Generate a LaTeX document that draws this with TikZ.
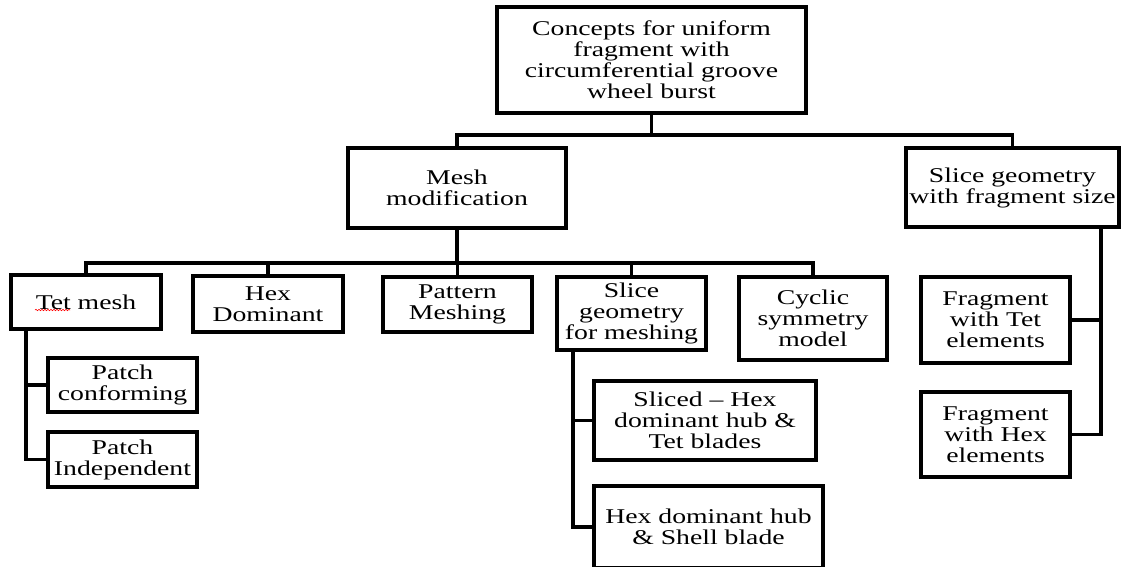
\documentclass[tikz,border=0pt]{standalone}
\usepackage{fontspec}
\setmainfont{Liberation Serif}[FakeStretch=1.32]
\usetikzlibrary{decorations.pathmorphing}
\tikzset{
  box/.style={draw, line width=3.5pt, inner sep=0pt, align=center, fill=white,
    font=\fontsize{21pt}{21pt}\selectfont},
  link/.style={line width=3.5pt, line cap=rect}
}
\newcommand\boxat[6]{\node[box, minimum width={(#4-#2)*1pt}, minimum height={(#5-#3)*1pt}] (#1) at ({(#2+#4)/2},{(#3+#5)/2}) {#6};}
\begin{document}
\begin{tikzpicture}[x=1pt,y=-1pt]
\useasboundingbox (0,0) rectangle (1121,566);
% helper coordinates for bus levels and vertical rails
\coordinate (b1) at (0,135);
\coordinate (b2) at (0,263);
\coordinate (tv) at (26,0);
\coordinate (sv) at (573,0);
\coordinate (rv) at (1101,0);
% boxes
\boxat{top}{497}{7}{806}{113}{Concepts for uniform\\fragment with\\circumferential groove\\wheel burst}
\boxat{mesh}{348}{148}{566}{228}{Mesh\\modification}
\boxat{slicer}{906}{148}{1119}{227}{Slice geometry\\with fragment size}
\boxat{tet}{11}{275}{161}{329}{Tet mesh}
\boxat{hex}{193}{276}{343}{332}{Hex\\Dominant}
\boxat{pat}{383}{277}{532}{332}{Pattern\\Meshing}
\boxat{slm}{557}{277}{706}{350}{Slice\\geometry\\for meshing}
\boxat{cyc}{739}{277}{887}{360}{Cyclic\\symmetry\\model}
\boxat{pc}{48}{358}{197}{412}{Patch\\conforming}
\boxat{pi}{48}{432}{197}{487}{Patch\\Independent}
\boxat{sh}{594}{381}{816}{460}{Sliced -- Hex\\dominant hub \&\\Tet blades}
\boxat{hs}{594}{486}{823}{568}{Hex dominant hub\\\& Shell blade}
\boxat{ft}{921}{277}{1070}{363}{Fragment\\with Tet\\elements}
\boxat{fh}{921}{392}{1070}{477}{Fragment\\with Hex\\elements}
% links
\draw[link] (top.south) -- (top.south |- b1) -| (mesh.north);
\draw[link] (top.south |- b1) -| (slicer.north);
\draw[link] (mesh.south) -- (mesh.south |- b2) -| (tet.north);
\draw[link] (mesh.south |- b2) -| (hex.north);
\draw[link] (mesh.south |- b2) -| (pat.north);
\draw[link] (mesh.south |- b2) -| (slm.north);
\draw[link] (mesh.south |- b2) -| (cyc.north);
\draw[link] (tet.south -| tv) |- (pc.west);
\draw[link] (tet.south -| tv) |- (pi.west);
\draw[link] (slm.south -| sv) |- (sh.west);
\draw[link] (slm.south -| sv) |- (hs.west);
\draw[link] (slicer.south -| rv) |- (ft.east);
\draw[link] (slicer.south -| rv) |- (fh.east);
% spell-check squiggle under "Tet"
\draw[red, line width=0.6pt, decorate, decoration={snake, amplitude=0.7pt, segment length=3pt}] (35,310) -- (70,310);
\end{tikzpicture}
\end{document}
